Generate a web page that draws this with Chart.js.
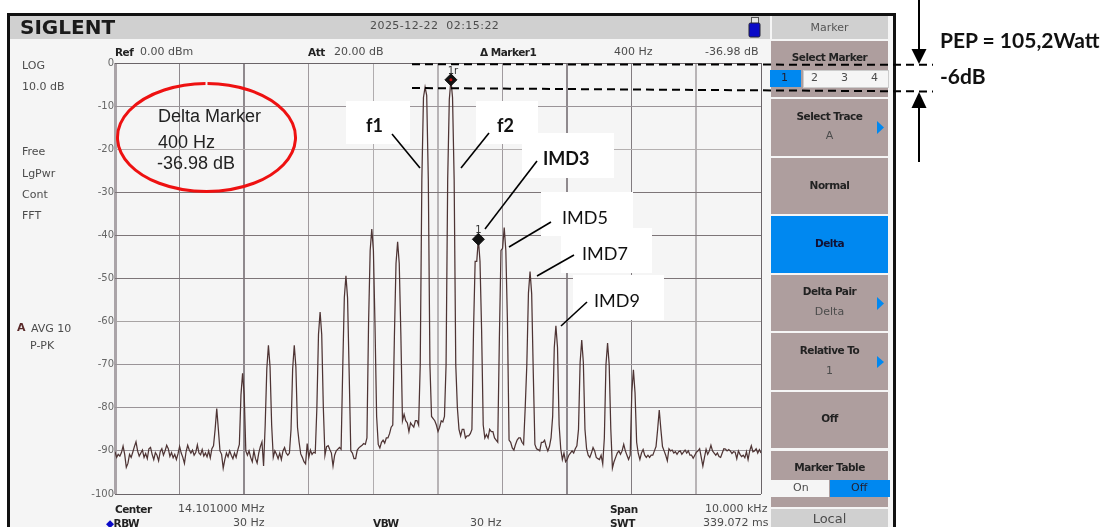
<!DOCTYPE html>
<html>
<head>
<meta charset="utf-8">
<title>IMD spectrum</title>
<script src="https://cdn.jsdelivr.net/npm/chart.js@4"></script>
<style>
  html, body { margin:0; padding:0; background:#fff; overflow:hidden; }
  #page { position:relative; width:1108px; height:527px; overflow:hidden; }
  #page div, #page canvas, #page svg { position:absolute; }
  canvas { left:0; top:0; }
  svg { left:0; top:0; }
  .t { font:11px "DejaVu Sans", sans-serif; color:#4c4c4c; white-space:nowrap; line-height:14px; }
  .b { font-weight:bold; color:#222; font-size:10.5px; letter-spacing:-0.5px; }
  .key { left:771px; width:117px; background:#ae9e9e; }
  .c { left:771px; width:117px; text-align:center; }
  .box { background:#fff; }
  .note { font:18px Lato, "Noto Sans", sans-serif; color:#111; white-space:nowrap; line-height:22px; }
  .big { font-size:21px; font-weight:bold; }
  .red { font:18px "Liberation Sans", Arial, sans-serif; color:#222; white-space:nowrap; line-height:20px; }
</style>
</head>
<body>
<div id="page">
  <!-- instrument frame -->
  <div style="left:7px;top:13px;width:883px;height:520px;border:3px solid #111;background:#f5f5f5"></div>
  <div style="left:10px;top:16px;width:760px;height:23px;background:#d0d0d0"></div>
  <div style="left:772px;top:16px;width:116px;height:23px;background:#d0d0d0"></div>

  <!-- soft keys -->
  <div class="key" style="top:41px;height:56px"></div>
  <div class="key" style="top:99px;height:57px"></div>
  <div class="key" style="top:158px;height:56px"></div>
  <div class="key" style="top:216px;height:57px;background:#0088f0"></div>
  <div class="key" style="top:275px;height:56px"></div>
  <div class="key" style="top:333px;height:57px"></div>
  <div class="key" style="top:392px;height:56px"></div>
  <div class="key" style="top:451px;height:56px"></div>
  <div class="key" style="top:509px;height:18px;background:#d0d0d0"></div>
  <div style="left:770px;top:70px;width:31px;height:17px;background:#0088f0"></div>
  <div style="left:803px;top:70px;width:84px;height:16px;background:#f5f5f5;border:1px solid #ccc"></div>
  <div style="left:771px;top:480px;width:58px;height:17px;background:#f5f5f5"></div>
  <div style="left:830px;top:480px;width:60px;height:17px;background:#0088f0"></div>

  <canvas id="spectrum" width="1108" height="527"></canvas>

  <!-- label boxes pasted over the screenshot -->
  <div class="box" style="left:346px;top:101px;width:64px;height:43px"></div>
  <div class="box" style="left:476px;top:101px;width:62px;height:43px"></div>
  <div class="box" style="left:522px;top:133px;width:92px;height:45px"></div>
  <div class="box" style="left:541px;top:192px;width:92px;height:44px"></div>
  <div class="box" style="left:561px;top:228px;width:91px;height:45px"></div>
  <div class="box" style="left:573px;top:275px;width:91px;height:45px"></div>

  <svg width="1108" height="527">
    <path d="M207.5 83.5 A89 54 0 1 1 205.5 83.5" fill="none" stroke="#ee1111" stroke-width="3"/>
    <line x1="412" y1="64.2" x2="933" y2="64.8" stroke="#000" stroke-width="2" stroke-dasharray="8 5"/>
    <line x1="412" y1="88" x2="933" y2="91.5" stroke="#000" stroke-width="2" stroke-dasharray="8 5"/>
    <line x1="919" y1="0" x2="919" y2="52" stroke="#000" stroke-width="2"/>
    <polygon points="911.5,49 926.5,49 919,64" fill="#000"/>
    <line x1="919" y1="106" x2="919" y2="162" stroke="#000" stroke-width="2"/>
    <polygon points="911.5,108 926.5,108 919,92" fill="#000"/>
    <g stroke="#000" stroke-width="1.6">
      <line x1="392" y1="134" x2="420" y2="168"/>
      <line x1="489" y1="133" x2="461" y2="168"/>
      <line x1="537" y1="161" x2="485" y2="229"/>
      <line x1="551" y1="222" x2="509" y2="247"/>
      <line x1="574" y1="255" x2="537" y2="276"/>
      <line x1="587" y1="302" x2="561" y2="326"/>
    </g>
    <g fill="#0088f0">
      <polygon points="877,121 884,127.5 877,134"/>
      <polygon points="877,297 884,303.5 877,310"/>
      <polygon points="877,356 884,362 877,368"/>
    </g>
    <!-- usb stick -->
    <rect x="751.5" y="17.5" width="7" height="6" fill="#e8e8e8" stroke="#555"/>
    <rect x="749" y="23" width="11" height="14" rx="1.5" fill="#0a0ac8" stroke="#223"/>
  </svg>

  <!-- header -->
  <div class="t" style="left:20px;top:15px;font:bold 20px/24px 'DejaVu Sans';color:#1a1a1a">SIGLENT</div>
  <div class="t" style="left:370px;top:19px;letter-spacing:0.45px">2025-12-22&nbsp;&nbsp;02:15:22</div>
  <div class="c t" style="top:21px;color:#555">Marker</div>

  <div class="t b" style="left:115px;top:45px">Ref</div>
  <div class="t" style="left:140px;top:45px">0.00 dBm</div>
  <div class="t b" style="left:308px;top:45px">Att</div>
  <div class="t" style="left:334px;top:45px">20.00 dB</div>
  <div class="t b" style="left:480px;top:45px">Δ Marker1</div>
  <div class="t" style="left:614px;top:45px">400 Hz</div>
  <div class="t" style="left:705px;top:45px">-36.98 dB</div>

  <!-- left column -->
  <div class="t" style="left:22px;top:59px">LOG</div>
  <div class="t" style="left:22px;top:80px">10.0 dB</div>
  <div class="t" style="left:22px;top:145px">Free</div>
  <div class="t" style="left:22px;top:167px">LgPwr</div>
  <div class="t" style="left:22px;top:188px">Cont</div>
  <div class="t" style="left:22px;top:209px">FFT</div>
  <div class="t b" style="left:17px;top:321px;color:#5a2a2a;font-size:11px">A</div>
  <div class="t" style="left:31px;top:322px">AVG 10</div>
  <div class="t" style="left:30px;top:339px">P-PK</div>

  <!-- bottom rows -->
  <div class="t b" style="left:115px;top:502px">Center</div>
  <div class="t" style="left:178px;top:502px">14.101000 MHz</div>
  <div class="t b" style="left:106px;top:516px"><span style="color:#0a0ac8">◆</span>RBW</div>
  <div class="t" style="left:233px;top:516px">30 Hz</div>
  <div class="t b" style="left:373px;top:516px">VBW</div>
  <div class="t" style="left:470px;top:516px">30 Hz</div>
  <div class="t b" style="left:610px;top:502px">Span</div>
  <div class="t" style="left:705px;top:502px">10.000 kHz</div>
  <div class="t b" style="left:610px;top:516px">SWT</div>
  <div class="t" style="left:703px;top:516px">339.072 ms</div>

  <!-- soft key labels -->
  <div class="c t b" style="top:50px">Select Marker</div>
  <div class="t" style="left:781px;top:71px;color:#223">1</div>
  <div class="t" style="left:811px;top:71px">2</div>
  <div class="t" style="left:841px;top:71px">3</div>
  <div class="t" style="left:871px;top:71px">4</div>
  <div class="c t b" style="top:109px">Select Trace</div>
  <div class="c t" style="top:129px">A</div>
  <div class="c t b" style="top:178px">Normal</div>
  <div class="c t b" style="top:236px;color:#113">Delta</div>
  <div class="c t b" style="top:284px">Delta Pair</div>
  <div class="c t" style="top:305px">Delta</div>
  <div class="c t b" style="top:343px">Relative To</div>
  <div class="c t" style="top:364px">1</div>
  <div class="c t b" style="top:411px">Off</div>
  <div class="c t b" style="top:460px">Marker Table</div>
  <div class="t" style="left:793px;top:481px">On</div>
  <div class="t" style="left:851px;top:481px;color:#223">Off</div>
  <div class="c t" style="top:512px;font-size:13px">Local</div>

  <!-- annotations -->
  <div class="note big" style="left:940px;top:29px">PEP = 105,2Watt</div>
  <div class="note big" style="left:940px;top:65px">-6dB</div>
  <div class="note" style="left:366px;top:114px;font-weight:bold">f1</div>
  <div class="note" style="left:497px;top:114px;font-weight:bold">f2</div>
  <div class="note" style="left:543px;top:147px;font-weight:bold">IMD3</div>
  <div class="note" style="left:562px;top:206px">IMD5</div>
  <div class="note" style="left:582px;top:242px">IMD7</div>
  <div class="note" style="left:594px;top:289px">IMD9</div>
  <div class="red" style="left:158px;top:106px">Delta Marker</div>
  <div class="red" style="left:158px;top:132px">400 Hz</div>
  <div class="red" style="left:157px;top:153px">-36.98 dB</div>
</div>

<script>
// Trace, frequency is offset from the 14.101 MHz center
const traceOffsetHz = [
  -5000,-4975,-4950,-4925,-4900,-4875,-4850,-4825,-4800,-4775,-4750,-4725,-4700,-4675,-4650,-4625,
  -4600,-4575,-4550,-4525,-4500,-4475,-4450,-4425,-4400,-4375,-4350,-4325,-4300,-4275,-4250,-4225,
  -4200,-4175,-4150,-4125,-4100,-4075,-4050,-4025,-4000,-3975,-3950,-3925,-3900,-3875,-3850,-3825,
  -3800,-3775,-3750,-3725,-3700,-3675,-3650,-3625,-3600,-3575,-3550,-3525,-3500,-3475,-3450,-3425,
  -3400,-3375,-3350,-3325,-3300,-3275,-3250,-3225,-3200,-3175,-3150,-3125,-3100,-3075,-3050,-3025,
  -3000,-2975,-2950,-2925,-2900,-2875,-2850,-2825,-2800,-2775,-2750,-2725,-2700,-2675,-2650,-2625,
  -2600,-2575,-2550,-2525,-2500,-2475,-2450,-2425,-2400,-2375,-2350,-2325,-2300,-2275,-2250,-2225,
  -2200,-2175,-2150,-2125,-2100,-2075,-2050,-2025,-2000,-1975,-1950,-1925,-1900,-1875,-1850,-1825,
  -1800,-1775,-1750,-1725,-1700,-1675,-1650,-1625,-1600,-1575,-1550,-1525,-1500,-1475,-1450,-1425,
  -1400,-1375,-1350,-1325,-1300,-1275,-1250,-1225,-1200,-1175,-1150,-1125,-1100,-1075,-1050,-1025,
  -1000,-975,-950,-925,-900,-875,-850,-825,-800,-775,-750,-725,-700,-675,-650,-625,
  -600,-575,-550,-525,-500,-475,-450,-425,-400,-375,-350,-325,-300,-275,-250,-225,
  -200,-175,-150,-125,-100,-75,-50,-25,0,25,50,75,100,125,150,175,
  200,225,250,275,300,325,350,375,400,425,450,475,500,525,550,575,
  600,625,650,675,700,725,750,775,800,825,850,875,900,925,950,975,
  1000,1025,1050,1075,1100,1125,1150,1175,1200,1225,1250,1275,1300,1325,1350,1375,
  1400,1425,1450,1475,1500,1525,1550,1575,1600,1625,1650,1675,1700,1725,1750,1775,
  1800,1825,1850,1875,1900,1925,1950,1975,2000,2025,2050,2075,2100,2125,2150,2175,
  2200,2225,2250,2275,2300,2325,2350,2375,2400,2425,2450,2475,2500,2525,2550,2575,
  2600,2625,2650,2675,2700,2725,2750,2775,2800,2825,2850,2875,2900,2925,2950,2975,
  3000,3025,3050,3075,3100,3125,3150,3175,3200,3225,3250,3275,3300,3325,3350,3375,
  3400,3425,3450,3475,3500,3525,3550,3575,3600,3625,3650,3675,3700,3725,3750,3775,
  3800,3825,3850,3875,3900,3925,3950,3975,4000,4025,4050,4075,4100,4125,4150,4175,
  4200,4225,4250,4275,4300,4325,4350,4375,4400,4425,4450,4475,4500,4525,4550,4575,
  4600,4625,4650,4675,4700,4725,4750,4775,4800,4825,4850,4875,4900,4925,4950,4975,
  5000
];
const traceDb = [
  -90.2,-91.5,-90.8,-91.2,-90.4,-88.9,-90.8,-93.8,-92.9,-90.8,-91.5,-90.3,-89,-87.9,-90,-91.2,
  -90.5,-89.8,-91.5,-90.6,-91.8,-89.5,-89.2,-90.8,-92,-90.4,-91,-92.3,-90.2,-89.5,-91,-90,
  -88.7,-89.5,-91.3,-90.4,-91.6,-90.8,-92,-90.7,-89,-90.5,-91.5,-92.9,-90.2,-88.7,-89.8,-90.5,
  -89.8,-91,-90.4,-88.6,-90.5,-90.9,-89.7,-91.2,-90.5,-91.4,-90,-91.6,-89.5,-88.8,-85,-80.2,
  -85,-90,-90.8,-94,-92,-90.5,-91.4,-90,-91,-91.8,-90.5,-91.5,-89.8,-88.5,-77,-72,
  -77,-90,-91,-90,-91.5,-92.5,-90,-91.8,-92.8,-90.5,-89,-87.9,-93.5,-84,-71,-65.5,
  -70.5,-84,-91.5,-90,-90.8,-91.8,-90.5,-92,-90,-89.2,-90.5,-91,-90.5,-85,-71,-65.5,
  -70.5,-84.5,-88,-90.7,-91.5,-92.5,-93,-88.3,-91.5,-89.8,-90.8,-90.3,-90.5,-80,-63,-57.8,
  -63,-80,-91,-89,-88.8,-89.7,-90.5,-93.5,-91,-90,-89.6,-89.2,-89.6,-71,-54.4,-49.4,
  -54.5,-72,-90,-90.5,-91.8,-91.8,-89.8,-89.3,-89,-88.7,-88.3,-88.5,-87,-60.5,-43.5,-38.5,
  -43.5,-61,-82,-88.5,-89.3,-88,-87.5,-88.2,-87,-87,-86,-84.5,-84,-63.5,-46.5,-41.5,
  -46.5,-63,-83,-81.5,-83,-83.5,-85.5,-83.5,-84,-84.5,-83,-83,-84,-70,-27,-8,
  -5.6,-7.5,-27,-70,-82,-82.5,-83,-84,-85.5,-84.5,-83,-83.3,-82,-70,-27,-8.5,
  -3.9,-8,-27,-70,-80,-85,-86.5,-85,-85,-87,-86.5,-86.5,-86,-85,-62,-46,
  -46,-40.8,-46,-62,-84,-87,-86.2,-87,-85,-85.5,-85.5,-87,-87.5,-88,-64,-43.5,
  -43,-38.2,-43.5,-60,-87.5,-88,-89.3,-89.8,-88.5,-87.5,-87,-87,-88,-88.5,-80,-70,
  -53.4,-48.4,-53.5,-72,-88.5,-89.5,-89.7,-90,-88,-88,-87.5,-89,-90,-89,-87,-82,
  -66,-61,-66,-84,-89.5,-92,-90.5,-92.5,-92,-91,-90.5,-90,-90.5,-89.5,-88.8,-85,
  -69.5,-64.3,-69.5,-85,-89.5,-91,-91.5,-90.5,-89.2,-90,-91.5,-91.8,-92,-91,-93,-87,
  -70,-65,-70,-85,-94,-92.5,-91.5,-90.5,-90,-90.8,-90,-88.5,-90,-91,-92,-91,
  -76.5,-71.2,-76.5,-88,-90.6,-92,-90.5,-89.7,-91,-91.5,-91,-91.5,-91,-91,-90,-89,
  -85,-80.5,-85,-89,-90,-91,-92.3,-89.5,-90,-89.8,-90.5,-90.2,-90.8,-90.2,-90,-90.8,
  -90.3,-89.8,-90.5,-90,-91,-91,-91.7,-91,-90.3,-90,-89.5,-91.5,-93.5,-91.5,-89.6,-90.8,
  -90,-88.7,-90,-90.5,-91,-90.5,-91.3,-91.5,-90.5,-89.5,-89.6,-90,-89.7,-90,-90.6,-90.2,
  -90.3,-91.8,-90,-90.8,-91.3,-91,-91.6,-90.2,-92,-90,-88.8,-90.2,-90,-89.5,-90.5,-89.7,
  -90.5
];

// Delta marker 1r on f2 and marker 1 on IMD3
const markerOffsetHz = [200, 625];
const markerDb = [-3.9, -40.9];
const markerLabels = ["1r", "1"];

// Screen grid is not even, the screenshot was resampled
const hGridColors = ["#6a6468","#9a9498","#9a9498","#9a9498","#a8a4a4","#7d7578","#7d7578","#7d7578","#b4b0b0","#9a9498","#6a6468"];
const vGridColors = ["#aaa4a8","#8f898d","#8f898d","#a09a9e","#b0acae","#b8b4b6","#a09a9e","#8f898d","#827c80","#b8b4b6","#6a6468"];
const vGridWidths = [3,1,2,1,1,2,1,2,1,2,1];

const markerPlugin = {
    id: "markerLabels",
    afterDatasetsDraw(chart) {
        const {ctx, scales} = chart;
        ctx.save();
        ctx.fillStyle = "#333";
        ctx.font = "10px 'DejaVu Sans'";
        ctx.textAlign = "center";
        markerOffsetHz.forEach((f, i) => {
            const px = scales.x.getPixelForValue(f);
            const py = scales.y.getPixelForValue(markerDb[i]);
            ctx.fillText(markerLabels[i], px + (i == 0 ? 2 : 0), py - 6);
        });
        // red dot in the reference marker
        ctx.fillStyle = "#c01010";
        ctx.beginPath();
        ctx.arc(scales.x.getPixelForValue(markerOffsetHz[0]), scales.y.getPixelForValue(markerDb[0]), 1.5, 0, Math.PI * 2);
        ctx.fill();
        ctx.restore();
    }
};

new Chart(document.getElementById("spectrum"), {
    type: "line",
    plugins: [markerPlugin],
    data: {
        datasets: [
            {
                data: markerOffsetHz.map((f, i) => ({x: f, y: markerDb[i]})),
                showLine: false,
                pointStyle: "rectRot",
                pointRadius: 6,
                backgroundColor: "#111",
                borderColor: "#111",
                order: 0
            },
            {
                data: traceOffsetHz.map((f, i) => ({x: f, y: traceDb[i]})),
                borderColor: "#4e3434",
                borderWidth: 1.25,
                pointRadius: 0,
                tension: 0,
                order: 1
            }
        ]
    },
    options: {
        responsive: false,
        animation: false,
        events: [],
        layout: {padding: {left: 75, right: 347, top: 63, bottom: 33}},
        plugins: {legend: {display: false}, tooltip: {enabled: false}},
        scales: {
            x: {
                type: "linear",
                min: -5000,
                max: 5000,
                border: {display: false},
                ticks: {stepSize: 1000, display: false},
                grid: {
                    drawTicks: false,
                    color: ctx => vGridColors[ctx.index],
                    lineWidth: ctx => vGridWidths[ctx.index]
                }
            },
            y: {
                min: -100,
                max: 0,
                afterFit: s => { s.width = 40; },
                border: {display: false},
                ticks: {
                    stepSize: 10,
                    padding: 1,
                    color: "#666",
                    font: {family: "DejaVu Sans", size: 10}
                },
                grid: {
                    drawTicks: false,
                    color: ctx => hGridColors[ctx.index]
                }
            }
        }
    }
});
</script>
</body>
</html>
